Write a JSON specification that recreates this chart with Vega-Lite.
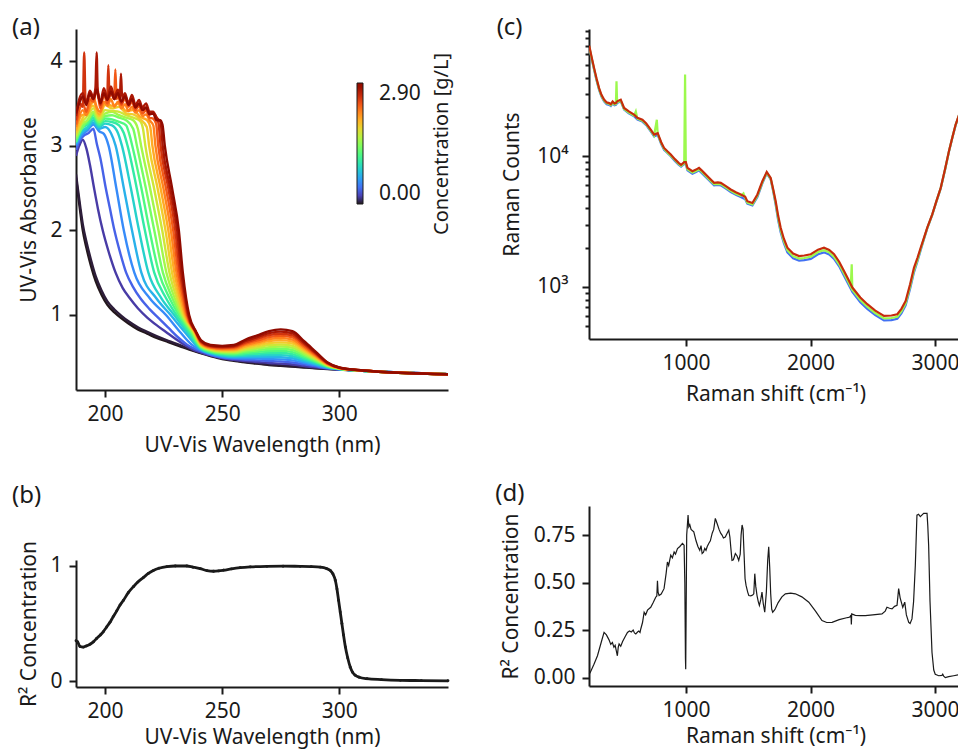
{
"$schema":"https://vega.github.io/schema/vega-lite/v6.json",
"padding":{"left":11,"top":16,"right":0,"bottom":10},
"autosize":{"type":"pad"},
"spacing":41,
"resolve":{"scale":{"x":"independent","y":"independent","color":"independent"}},
"datasets":{
"uv":[
{"c":0,"w":187.6,"a":2.62},{"c":0,"w":188.5,"a":2.42},{"c":0,"w":189.5,"a":2.2},{"c":0,"w":190.5,"a":2.0},{"c":0,"w":192,"a":1.8},{"c":0,"w":194,"a":1.58},{"c":0,"w":196,"a":1.4},{"c":0,"w":198.5,"a":1.24},{"c":0,"w":201,"a":1.12},{"c":0,"w":204,"a":1.03},{"c":0,"w":207,"a":0.96},{"c":0,"w":210,"a":0.9},{"c":0,"w":214,"a":0.83},{"c":0,"w":218,"a":0.78},{"c":0,"w":222,"a":0.73},{"c":0,"w":227,"a":0.68},{"c":0,"w":232,"a":0.63},{"c":0,"w":236,"a":0.59},{"c":0,"w":240,"a":0.555},{"c":0,"w":245,"a":0.515},{"c":0,"w":250,"a":0.48},{"c":0,"w":255,"a":0.46},{"c":0,"w":260,"a":0.44},{"c":0,"w":265,"a":0.425},{"c":0,"w":270,"a":0.41},{"c":0,"w":275,"a":0.4},{"c":0,"w":280,"a":0.39},{"c":0,"w":285,"a":0.38},{"c":0,"w":290,"a":0.37},{"c":0,"w":295,"a":0.362},{"c":0,"w":300,"a":0.355},{"c":0,"w":310,"a":0.34},{"c":0,"w":346.4,"a":0.3},
{"c":0.03,"w":187.6,"a":2.66},{"c":0.03,"w":188.5,"a":2.47},{"c":0.03,"w":189.5,"a":2.26},{"c":0.03,"w":190.5,"a":2.07},{"c":0.03,"w":192,"a":1.87},{"c":0.03,"w":194,"a":1.65},{"c":0.03,"w":196,"a":1.46},{"c":0.03,"w":198.5,"a":1.29},{"c":0.03,"w":201,"a":1.16},{"c":0.03,"w":204,"a":1.065},{"c":0.03,"w":207,"a":0.99},{"c":0.03,"w":210,"a":0.925},{"c":0.03,"w":214,"a":0.855},{"c":0.03,"w":218,"a":0.8},{"c":0.03,"w":222,"a":0.75},{"c":0.03,"w":227,"a":0.695},{"c":0.03,"w":232,"a":0.645},{"c":0.03,"w":236,"a":0.6},{"c":0.03,"w":240,"a":0.562},{"c":0.03,"w":245,"a":0.522},{"c":0.03,"w":250,"a":0.487},{"c":0.03,"w":255,"a":0.466},{"c":0.03,"w":260,"a":0.445},{"c":0.03,"w":265,"a":0.43},{"c":0.03,"w":270,"a":0.415},{"c":0.03,"w":275,"a":0.405},{"c":0.03,"w":280,"a":0.394},{"c":0.03,"w":285,"a":0.384},{"c":0.03,"w":290,"a":0.373},{"c":0.03,"w":295,"a":0.364},{"c":0.03,"w":300,"a":0.357},{"c":0.03,"w":310,"a":0.341},{"c":0.03,"w":346.4,"a":0.3},
{"c":0.17,"w":187.6,"a":2.88},{"c":0.17,"w":189,"a":3.0},{"c":0.17,"w":190.5,"a":3.07},{"c":0.17,"w":192,"a":2.97},{"c":0.17,"w":193.5,"a":2.78},{"c":0.17,"w":195.3,"a":2.5},{"c":0.17,"w":197,"a":2.25},{"c":0.17,"w":199,"a":2.0},{"c":0.17,"w":201.5,"a":1.75},{"c":0.17,"w":204.5,"a":1.5},{"c":0.17,"w":207.5,"a":1.32},{"c":0.17,"w":210.5,"a":1.2},{"c":0.17,"w":214,"a":1.08},{"c":0.17,"w":218,"a":0.97},{"c":0.17,"w":222,"a":0.88},{"c":0.17,"w":226,"a":0.8},{"c":0.17,"w":230,"a":0.72},{"c":0.17,"w":234,"a":0.645},{"c":0.17,"w":238,"a":0.585},{"c":0.17,"w":241,"a":0.557},{"c":0.17,"w":245,"a":0.523},{"c":0.17,"w":250,"a":0.489},{"c":0.17,"w":255,"a":0.471},{"c":0.17,"w":260,"a":0.456},{"c":0.17,"w":265,"a":0.445},{"c":0.17,"w":270,"a":0.433},{"c":0.17,"w":275,"a":0.425},{"c":0.17,"w":280,"a":0.415},{"c":0.17,"w":285,"a":0.398},{"c":0.17,"w":290,"a":0.381},{"c":0.17,"w":295,"a":0.367},{"c":0.17,"w":300,"a":0.357},{"c":0.17,"w":310,"a":0.34},{"c":0.17,"w":346.4,"a":0.3},
{"c":0.34,"w":187.6,"a":2.95},{"c":0.34,"w":189,"a":3.05},{"c":0.34,"w":191,"a":3.12},{"c":0.34,"w":193,"a":3.15},{"c":0.34,"w":195,"a":3.2},{"c":0.34,"w":196.5,"a":3.02},{"c":0.34,"w":198,"a":2.85},{"c":0.34,"w":200.3,"a":2.5},{"c":0.34,"w":202,"a":2.27},{"c":0.34,"w":204,"a":2.0},{"c":0.34,"w":206.5,"a":1.73},{"c":0.34,"w":209,"a":1.5},{"c":0.34,"w":212,"a":1.33},{"c":0.34,"w":215,"a":1.2},{"c":0.34,"w":219,"a":1.07},{"c":0.34,"w":223,"a":0.96},{"c":0.34,"w":227,"a":0.85},{"c":0.34,"w":231,"a":0.74},{"c":0.34,"w":235,"a":0.65},{"c":0.34,"w":239,"a":0.59},{"c":0.34,"w":242,"a":0.56},{"c":0.34,"w":245,"a":0.53},{"c":0.34,"w":250,"a":0.498},{"c":0.34,"w":255,"a":0.482},{"c":0.34,"w":260,"a":0.472},{"c":0.34,"w":265,"a":0.464},{"c":0.34,"w":270,"a":0.457},{"c":0.34,"w":275,"a":0.45},{"c":0.34,"w":280,"a":0.439},{"c":0.34,"w":285,"a":0.416},{"c":0.34,"w":290,"a":0.393},{"c":0.34,"w":295,"a":0.371},{"c":0.34,"w":300,"a":0.358},{"c":0.34,"w":310,"a":0.341},{"c":0.34,"w":346.4,"a":0.3},
{"c":0.51,"w":187.6,"a":3.0},{"c":0.51,"w":190,"a":3.12},{"c":0.51,"w":192.5,"a":3.18},{"c":0.51,"w":195,"a":3.25},{"c":0.51,"w":197.5,"a":3.17},{"c":0.51,"w":199.5,"a":3.14},{"c":0.51,"w":201.5,"a":3.0},{"c":0.51,"w":204.8,"a":2.5},{"c":0.51,"w":208,"a":2.0},{"c":0.51,"w":212.5,"a":1.5},{"c":0.51,"w":219,"a":1.2},{"c":0.51,"w":226,"a":1.0},{"c":0.51,"w":232,"a":0.8},{"c":0.51,"w":237,"a":0.65},{"c":0.51,"w":241,"a":0.58},{"c":0.51,"w":245,"a":0.538},{"c":0.51,"w":250,"a":0.507},{"c":0.51,"w":255,"a":0.493},{"c":0.51,"w":260,"a":0.488},{"c":0.51,"w":265,"a":0.484},{"c":0.51,"w":270,"a":0.48},{"c":0.51,"w":275,"a":0.476},{"c":0.51,"w":280,"a":0.464},{"c":0.51,"w":285,"a":0.435},{"c":0.51,"w":290,"a":0.404},{"c":0.51,"w":295,"a":0.376},{"c":0.51,"w":300,"a":0.359},{"c":0.51,"w":310,"a":0.341},{"c":0.51,"w":346.4,"a":0.3},
{"c":0.68,"w":187.6,"a":3.02},{"c":0.68,"w":190,"a":3.15},{"c":0.68,"w":192.5,"a":3.2},{"c":0.68,"w":195,"a":3.27},{"c":0.68,"w":197.5,"a":3.2},{"c":0.68,"w":200,"a":3.22},{"c":0.68,"w":202.5,"a":3.15},{"c":0.68,"w":204.5,"a":3.0},{"c":0.68,"w":208,"a":2.5},{"c":0.68,"w":211.5,"a":2.0},{"c":0.68,"w":215.5,"a":1.5},{"c":0.68,"w":221.8,"a":1.2},{"c":0.68,"w":228,"a":1.0},{"c":0.68,"w":234,"a":0.8},{"c":0.68,"w":241,"a":0.589},{"c":0.68,"w":245,"a":0.546},{"c":0.68,"w":250,"a":0.516},{"c":0.68,"w":255,"a":0.503},{"c":0.68,"w":260,"a":0.503},{"c":0.68,"w":265,"a":0.504},{"c":0.68,"w":270,"a":0.504},{"c":0.68,"w":275,"a":0.501},{"c":0.68,"w":280,"a":0.489},{"c":0.68,"w":285,"a":0.453},{"c":0.68,"w":290,"a":0.416},{"c":0.68,"w":295,"a":0.38},{"c":0.68,"w":300,"a":0.361},{"c":0.68,"w":310,"a":0.341},{"c":0.68,"w":346.4,"a":0.3},
{"c":0.85,"w":187.6,"a":3.04},{"c":0.85,"w":190,"a":3.17},{"c":0.85,"w":192.5,"a":3.22},{"c":0.85,"w":195,"a":3.3},{"c":0.85,"w":197.5,"a":3.22},{"c":0.85,"w":200,"a":3.26},{"c":0.85,"w":203,"a":3.24},{"c":0.85,"w":205.5,"a":3.15},{"c":0.85,"w":207.2,"a":3.0},{"c":0.85,"w":211,"a":2.5},{"c":0.85,"w":214.5,"a":2.0},{"c":0.85,"w":218.5,"a":1.5},{"c":0.85,"w":224,"a":1.2},{"c":0.85,"w":229.5,"a":1.0},{"c":0.85,"w":235,"a":0.8},{"c":0.85,"w":241,"a":0.597},{"c":0.85,"w":245,"a":0.553},{"c":0.85,"w":250,"a":0.525},{"c":0.85,"w":255,"a":0.514},{"c":0.85,"w":260,"a":0.519},{"c":0.85,"w":265,"a":0.523},{"c":0.85,"w":270,"a":0.527},{"c":0.85,"w":275,"a":0.526},{"c":0.85,"w":280,"a":0.513},{"c":0.85,"w":285,"a":0.471},{"c":0.85,"w":290,"a":0.427},{"c":0.85,"w":295,"a":0.385},{"c":0.85,"w":300,"a":0.362},{"c":0.85,"w":310,"a":0.341},{"c":0.85,"w":346.4,"a":0.3},
{"c":1.02,"w":187.6,"a":3.06},{"c":1.02,"w":190,"a":3.2},{"c":1.02,"w":192.5,"a":3.25},{"c":1.02,"w":195,"a":3.33},{"c":1.02,"w":197.5,"a":3.24},{"c":1.02,"w":200,"a":3.29},{"c":1.02,"w":203,"a":3.28},{"c":1.02,"w":206,"a":3.24},{"c":1.02,"w":208,"a":3.15},{"c":1.02,"w":209.6,"a":3.0},{"c":1.02,"w":213.5,"a":2.5},{"c":1.02,"w":217,"a":2.0},{"c":1.02,"w":221,"a":1.5},{"c":1.02,"w":226,"a":1.2},{"c":1.02,"w":230.5,"a":1.0},{"c":1.02,"w":235.8,"a":0.8},{"c":1.02,"w":241,"a":0.606},{"c":1.02,"w":245,"a":0.561},{"c":1.02,"w":250,"a":0.535},{"c":1.02,"w":255,"a":0.525},{"c":1.02,"w":260,"a":0.535},{"c":1.02,"w":265,"a":0.543},{"c":1.02,"w":270,"a":0.551},{"c":1.02,"w":275,"a":0.551},{"c":1.02,"w":280,"a":0.538},{"c":1.02,"w":285,"a":0.489},{"c":1.02,"w":290,"a":0.439},{"c":1.02,"w":295,"a":0.389},{"c":1.02,"w":300,"a":0.364},{"c":1.02,"w":310,"a":0.342},{"c":1.02,"w":346.4,"a":0.3},
{"c":1.19,"w":187.6,"a":3.04},{"c":1.19,"w":190,"a":3.22},{"c":1.19,"w":192.5,"a":3.27},{"c":1.19,"w":195,"a":3.36},{"c":1.19,"w":197.5,"a":3.26},{"c":1.19,"w":200,"a":3.32},{"c":1.19,"w":203,"a":3.31},{"c":1.19,"w":206,"a":3.28},{"c":1.19,"w":209,"a":3.24},{"c":1.19,"w":210.2,"a":3.15},{"c":1.19,"w":211.6,"a":3.0},{"c":1.19,"w":215.5,"a":2.5},{"c":1.19,"w":219,"a":2.0},{"c":1.19,"w":223,"a":1.5},{"c":1.19,"w":227.5,"a":1.2},{"c":1.19,"w":231.5,"a":1.0},{"c":1.19,"w":236.5,"a":0.8},{"c":1.19,"w":241,"a":0.614},{"c":1.19,"w":245,"a":0.568},{"c":1.19,"w":250,"a":0.544},{"c":1.19,"w":255,"a":0.536},{"c":1.19,"w":260,"a":0.551},{"c":1.19,"w":265,"a":0.563},{"c":1.19,"w":270,"a":0.574},{"c":1.19,"w":275,"a":0.576},{"c":1.19,"w":280,"a":0.562},{"c":1.19,"w":285,"a":0.507},{"c":1.19,"w":290,"a":0.45},{"c":1.19,"w":295,"a":0.394},{"c":1.19,"w":300,"a":0.365},{"c":1.19,"w":310,"a":0.342},{"c":1.19,"w":346.4,"a":0.3},
{"c":1.36,"w":187.6,"a":3.08},{"c":1.36,"w":190,"a":3.2},{"c":1.36,"w":192.5,"a":3.3},{"c":1.36,"w":195,"a":3.38},{"c":1.36,"w":197.5,"a":3.28},{"c":1.36,"w":200,"a":3.35},{"c":1.36,"w":203,"a":3.36},{"c":1.36,"w":206,"a":3.33},{"c":1.36,"w":209,"a":3.3},{"c":1.36,"w":212,"a":3.2},{"c":1.36,"w":213.6,"a":3.0},{"c":1.36,"w":217.4,"a":2.5},{"c":1.36,"w":221,"a":2.0},{"c":1.36,"w":224.7,"a":1.5},{"c":1.36,"w":228.7,"a":1.2},{"c":1.36,"w":232.2,"a":1.0},{"c":1.36,"w":237,"a":0.8},{"c":1.36,"w":241,"a":0.623},{"c":1.36,"w":245,"a":0.576},{"c":1.36,"w":250,"a":0.553},{"c":1.36,"w":255,"a":0.547},{"c":1.36,"w":260,"a":0.567},{"c":1.36,"w":265,"a":0.582},{"c":1.36,"w":270,"a":0.598},{"c":1.36,"w":275,"a":0.602},{"c":1.36,"w":280,"a":0.587},{"c":1.36,"w":285,"a":0.525},{"c":1.36,"w":290,"a":0.462},{"c":1.36,"w":295,"a":0.399},{"c":1.36,"w":300,"a":0.367},{"c":1.36,"w":310,"a":0.342},{"c":1.36,"w":346.4,"a":0.3},
{"c":1.53,"w":187.6,"a":3.1},{"c":1.53,"w":190,"a":3.25},{"c":1.53,"w":192.5,"a":3.3},{"c":1.53,"w":195,"a":3.4},{"c":1.53,"w":197.5,"a":3.3},{"c":1.53,"w":200,"a":3.38},{"c":1.53,"w":203,"a":3.4},{"c":1.53,"w":206,"a":3.36},{"c":1.53,"w":209,"a":3.33},{"c":1.53,"w":212,"a":3.3},{"c":1.53,"w":214,"a":3.2},{"c":1.53,"w":215.4,"a":3.0},{"c":1.53,"w":219.2,"a":2.5},{"c":1.53,"w":222.8,"a":2.0},{"c":1.53,"w":226.2,"a":1.5},{"c":1.53,"w":229.7,"a":1.2},{"c":1.53,"w":232.8,"a":1.0},{"c":1.53,"w":237.4,"a":0.8},{"c":1.53,"w":241,"a":0.632},{"c":1.53,"w":245,"a":0.584},{"c":1.53,"w":250,"a":0.562},{"c":1.53,"w":255,"a":0.558},{"c":1.53,"w":260,"a":0.583},{"c":1.53,"w":265,"a":0.602},{"c":1.53,"w":270,"a":0.621},{"c":1.53,"w":275,"a":0.627},{"c":1.53,"w":280,"a":0.612},{"c":1.53,"w":285,"a":0.544},{"c":1.53,"w":290,"a":0.473},{"c":1.53,"w":295,"a":0.403},{"c":1.53,"w":300,"a":0.368},{"c":1.53,"w":310,"a":0.343},{"c":1.53,"w":346.4,"a":0.3},
{"c":1.7,"w":187.6,"a":3.12},{"c":1.7,"w":190,"a":3.27},{"c":1.7,"w":192.5,"a":3.35},{"c":1.7,"w":195,"a":3.44},{"c":1.7,"w":197.5,"a":3.32},{"c":1.7,"w":200,"a":3.42},{"c":1.7,"w":203,"a":3.41},{"c":1.7,"w":206,"a":3.4},{"c":1.7,"w":209,"a":3.36},{"c":1.7,"w":212,"a":3.33},{"c":1.7,"w":215,"a":3.29},{"c":1.7,"w":216.2,"a":3.2},{"c":1.7,"w":217.2,"a":3.0},{"c":1.7,"w":220.9,"a":2.5},{"c":1.7,"w":224.4,"a":2.0},{"c":1.7,"w":227.5,"a":1.5},{"c":1.7,"w":230.6,"a":1.2},{"c":1.7,"w":233.3,"a":1.0},{"c":1.7,"w":237.8,"a":0.8},{"c":1.7,"w":241,"a":0.64},{"c":1.7,"w":245,"a":0.591},{"c":1.7,"w":250,"a":0.571},{"c":1.7,"w":255,"a":0.568},{"c":1.7,"w":260,"a":0.598},{"c":1.7,"w":265,"a":0.621},{"c":1.7,"w":270,"a":0.645},{"c":1.7,"w":275,"a":0.652},{"c":1.7,"w":280,"a":0.636},{"c":1.7,"w":285,"a":0.562},{"c":1.7,"w":290,"a":0.484},{"c":1.7,"w":295,"a":0.408},{"c":1.7,"w":300,"a":0.37},{"c":1.7,"w":310,"a":0.343},{"c":1.7,"w":346.4,"a":0.3},
{"c":1.87,"w":187.6,"a":3.15},{"c":1.87,"w":190,"a":3.3},{"c":1.87,"w":192.5,"a":3.42},{"c":1.87,"w":195,"a":3.47},{"c":1.87,"w":197.5,"a":3.35},{"c":1.87,"w":200,"a":3.48},{"c":1.87,"w":203,"a":3.44},{"c":1.87,"w":206,"a":3.46},{"c":1.87,"w":209,"a":3.38},{"c":1.87,"w":212,"a":3.37},{"c":1.87,"w":215,"a":3.31},{"c":1.87,"w":217.8,"a":3.22},{"c":1.87,"w":218.8,"a":3.0},{"c":1.87,"w":222.4,"a":2.5},{"c":1.87,"w":225.8,"a":2.0},{"c":1.87,"w":228.6,"a":1.5},{"c":1.87,"w":231.4,"a":1.2},{"c":1.87,"w":233.8,"a":1.0},{"c":1.87,"w":238.1,"a":0.8},{"c":1.87,"w":241,"a":0.648},{"c":1.87,"w":245,"a":0.599},{"c":1.87,"w":250,"a":0.58},{"c":1.87,"w":255,"a":0.579},{"c":1.87,"w":260,"a":0.614},{"c":1.87,"w":265,"a":0.641},{"c":1.87,"w":270,"a":0.668},{"c":1.87,"w":275,"a":0.677},{"c":1.87,"w":280,"a":0.661},{"c":1.87,"w":285,"a":0.58},{"c":1.87,"w":290,"a":0.496},{"c":1.87,"w":295,"a":0.412},{"c":1.87,"w":300,"a":0.371},{"c":1.87,"w":310,"a":0.343},{"c":1.87,"w":346.4,"a":0.3},
{"c":2.04,"w":187.6,"a":3.18},{"c":2.04,"w":190,"a":3.36},{"c":2.04,"w":192.5,"a":3.38},{"c":2.04,"w":195,"a":3.52},{"c":2.04,"w":197.5,"a":3.37},{"c":2.04,"w":200,"a":3.5},{"c":2.04,"w":203,"a":3.47},{"c":2.04,"w":206,"a":3.5},{"c":2.04,"w":209,"a":3.41},{"c":2.04,"w":212,"a":3.42},{"c":2.04,"w":215,"a":3.34},{"c":2.04,"w":218,"a":3.3},{"c":2.04,"w":219.3,"a":3.22},{"c":2.04,"w":220.2,"a":3.0},{"c":2.04,"w":223.7,"a":2.5},{"c":2.04,"w":227,"a":2.0},{"c":2.04,"w":229.6,"a":1.5},{"c":2.04,"w":232.1,"a":1.2},{"c":2.04,"w":234.2,"a":1.0},{"c":2.04,"w":238.3,"a":0.8},{"c":2.04,"w":241,"a":0.657},{"c":2.04,"w":245,"a":0.606},{"c":2.04,"w":250,"a":0.589},{"c":2.04,"w":255,"a":0.59},{"c":2.04,"w":260,"a":0.63},{"c":2.04,"w":265,"a":0.661},{"c":2.04,"w":270,"a":0.691},{"c":2.04,"w":275,"a":0.703},{"c":2.04,"w":280,"a":0.685},{"c":2.04,"w":285,"a":0.598},{"c":2.04,"w":290,"a":0.507},{"c":2.04,"w":295,"a":0.417},{"c":2.04,"w":300,"a":0.373},{"c":2.04,"w":310,"a":0.344},{"c":2.04,"w":346.4,"a":0.3},
{"c":2.21,"w":187.6,"a":3.22},{"c":2.21,"w":189,"a":3.35},{"c":2.21,"w":190.5,"a":3.42},{"c":2.21,"w":192,"a":3.36},{"c":2.21,"w":193.5,"a":3.48},{"c":2.21,"w":195,"a":3.58},{"c":2.21,"w":196.5,"a":3.45},{"c":2.21,"w":198,"a":3.4},{"c":2.21,"w":199.5,"a":3.52},{"c":2.21,"w":201,"a":3.47},{"c":2.21,"w":202.5,"a":3.55},{"c":2.21,"w":204,"a":3.46},{"c":2.21,"w":205.5,"a":3.52},{"c":2.21,"w":207,"a":3.44},{"c":2.21,"w":208.5,"a":3.49},{"c":2.21,"w":210,"a":3.41},{"c":2.21,"w":211.5,"a":3.46},{"c":2.21,"w":213,"a":3.39},{"c":2.21,"w":214.5,"a":3.42},{"c":2.21,"w":216,"a":3.35},{"c":2.21,"w":217.5,"a":3.37},{"c":2.21,"w":219,"a":3.3},{"c":2.21,"w":220.6,"a":3.24},{"c":2.21,"w":221.5,"a":3.0},{"c":2.21,"w":224.9,"a":2.5},{"c":2.21,"w":228.1,"a":2.0},{"c":2.21,"w":230.5,"a":1.5},{"c":2.21,"w":232.8,"a":1.2},{"c":2.21,"w":234.6,"a":1.0},{"c":2.21,"w":238.5,"a":0.8},{"c":2.21,"w":241,"a":0.665},{"c":2.21,"w":245,"a":0.614},{"c":2.21,"w":250,"a":0.598},{"c":2.21,"w":255,"a":0.601},{"c":2.21,"w":260,"a":0.646},{"c":2.21,"w":265,"a":0.68},{"c":2.21,"w":270,"a":0.715},{"c":2.21,"w":275,"a":0.728},{"c":2.21,"w":280,"a":0.71},{"c":2.21,"w":285,"a":0.616},{"c":2.21,"w":290,"a":0.519},{"c":2.21,"w":295,"a":0.421},{"c":2.21,"w":300,"a":0.374},{"c":2.21,"w":310,"a":0.344},{"c":2.21,"w":346.4,"a":0.3},
{"c":2.38,"w":187.6,"a":3.25},{"c":2.38,"w":189,"a":3.42},{"c":2.38,"w":190.5,"a":3.5},{"c":2.38,"w":192,"a":3.4},{"c":2.38,"w":193.5,"a":3.55},{"c":2.38,"w":195,"a":3.52},{"c":2.38,"w":196.5,"a":3.66},{"c":2.38,"w":198,"a":3.44},{"c":2.38,"w":199.5,"a":3.6},{"c":2.38,"w":201,"a":3.5},{"c":2.38,"w":202.5,"a":3.62},{"c":2.38,"w":203.9,"a":3.55},{"c":2.38,"w":204.4,"a":3.9},{"c":2.38,"w":204.9,"a":3.55},{"c":2.38,"w":205.5,"a":3.58},{"c":2.38,"w":207,"a":3.48},{"c":2.38,"w":208.5,"a":3.56},{"c":2.38,"w":210,"a":3.46},{"c":2.38,"w":211.5,"a":3.52},{"c":2.38,"w":213,"a":3.42},{"c":2.38,"w":214.5,"a":3.47},{"c":2.38,"w":216,"a":3.38},{"c":2.38,"w":217.5,"a":3.42},{"c":2.38,"w":219,"a":3.33},{"c":2.38,"w":220.5,"a":3.32},{"c":2.38,"w":221.8,"a":3.26},{"c":2.38,"w":222.7,"a":3.0},{"c":2.38,"w":226,"a":2.5},{"c":2.38,"w":229.1,"a":2.0},{"c":2.38,"w":231.3,"a":1.5},{"c":2.38,"w":233.4,"a":1.2},{"c":2.38,"w":235,"a":1.0},{"c":2.38,"w":238.6,"a":0.8},{"c":2.38,"w":241,"a":0.674},{"c":2.38,"w":245,"a":0.622},{"c":2.38,"w":250,"a":0.607},{"c":2.38,"w":255,"a":0.612},{"c":2.38,"w":260,"a":0.662},{"c":2.38,"w":265,"a":0.7},{"c":2.38,"w":270,"a":0.738},{"c":2.38,"w":275,"a":0.753},{"c":2.38,"w":280,"a":0.735},{"c":2.38,"w":285,"a":0.634},{"c":2.38,"w":290,"a":0.53},{"c":2.38,"w":295,"a":0.426},{"c":2.38,"w":300,"a":0.376},{"c":2.38,"w":310,"a":0.344},{"c":2.38,"w":346.4,"a":0.3},
{"c":2.55,"w":187.6,"a":3.3},{"c":2.55,"w":189,"a":3.5},{"c":2.55,"w":190.5,"a":3.46},{"c":2.55,"w":191.1,"a":4.1},{"c":2.55,"w":191.7,"a":3.5},{"c":2.55,"w":193.5,"a":3.6},{"c":2.55,"w":195,"a":3.55},{"c":2.55,"w":196.5,"a":3.7},{"c":2.55,"w":198,"a":3.48},{"c":2.55,"w":199.5,"a":3.62},{"c":2.55,"w":200.9,"a":3.55},{"c":2.55,"w":201.4,"a":3.95},{"c":2.55,"w":201.9,"a":3.58},{"c":2.55,"w":202.5,"a":3.66},{"c":2.55,"w":204,"a":3.55},{"c":2.55,"w":205.5,"a":3.64},{"c":2.55,"w":207,"a":3.5},{"c":2.55,"w":208.5,"a":3.6},{"c":2.55,"w":210,"a":3.49},{"c":2.55,"w":211.5,"a":3.56},{"c":2.55,"w":213,"a":3.45},{"c":2.55,"w":214.5,"a":3.5},{"c":2.55,"w":216,"a":3.42},{"c":2.55,"w":217.5,"a":3.45},{"c":2.55,"w":219,"a":3.37},{"c":2.55,"w":220.5,"a":3.38},{"c":2.55,"w":222.8,"a":3.27},{"c":2.55,"w":223.7,"a":3.0},{"c":2.55,"w":227,"a":2.5},{"c":2.55,"w":230,"a":2.0},{"c":2.55,"w":232,"a":1.5},{"c":2.55,"w":233.9,"a":1.2},{"c":2.55,"w":235.3,"a":1.0},{"c":2.55,"w":238.7,"a":0.8},{"c":2.55,"w":241,"a":0.683},{"c":2.55,"w":245,"a":0.629},{"c":2.55,"w":250,"a":0.616},{"c":2.55,"w":255,"a":0.623},{"c":2.55,"w":260,"a":0.677},{"c":2.55,"w":265,"a":0.72},{"c":2.55,"w":270,"a":0.762},{"c":2.55,"w":275,"a":0.778},{"c":2.55,"w":280,"a":0.759},{"c":2.55,"w":285,"a":0.653},{"c":2.55,"w":290,"a":0.541},{"c":2.55,"w":295,"a":0.431},{"c":2.55,"w":300,"a":0.377},{"c":2.55,"w":310,"a":0.344},{"c":2.55,"w":346.4,"a":0.3},
{"c":2.72,"w":187.6,"a":3.35},{"c":2.72,"w":189,"a":3.55},{"c":2.72,"w":190.5,"a":3.62},{"c":2.72,"w":192,"a":3.5},{"c":2.72,"w":193.5,"a":3.65},{"c":2.72,"w":195,"a":3.58},{"c":2.72,"w":195.9,"a":3.68},{"c":2.72,"w":196.4,"a":4.1},{"c":2.72,"w":196.9,"a":3.62},{"c":2.72,"w":198,"a":3.52},{"c":2.72,"w":199.5,"a":3.68},{"c":2.72,"w":201,"a":3.56},{"c":2.72,"w":202.5,"a":3.7},{"c":2.72,"w":204,"a":3.58},{"c":2.72,"w":205.5,"a":3.66},{"c":2.72,"w":206.3,"a":3.56},{"c":2.72,"w":206.8,"a":3.85},{"c":2.72,"w":207.3,"a":3.56},{"c":2.72,"w":208.5,"a":3.62},{"c":2.72,"w":210,"a":3.5},{"c":2.72,"w":211.5,"a":3.6},{"c":2.72,"w":213,"a":3.48},{"c":2.72,"w":214.5,"a":3.54},{"c":2.72,"w":216,"a":3.45},{"c":2.72,"w":217.5,"a":3.5},{"c":2.72,"w":219,"a":3.4},{"c":2.72,"w":220.5,"a":3.4},{"c":2.72,"w":222,"a":3.33},{"c":2.72,"w":223.7,"a":3.28},{"c":2.72,"w":224.6,"a":3.0},{"c":2.72,"w":227.8,"a":2.5},{"c":2.72,"w":230.8,"a":2.0},{"c":2.72,"w":232.6,"a":1.5},{"c":2.72,"w":234.3,"a":1.2},{"c":2.72,"w":235.6,"a":1.0},{"c":2.72,"w":238.8,"a":0.8},{"c":2.72,"w":241,"a":0.692},{"c":2.72,"w":245,"a":0.637},{"c":2.72,"w":250,"a":0.625},{"c":2.72,"w":255,"a":0.634},{"c":2.72,"w":260,"a":0.693},{"c":2.72,"w":265,"a":0.739},{"c":2.72,"w":270,"a":0.785},{"c":2.72,"w":275,"a":0.803},{"c":2.72,"w":280,"a":0.784},{"c":2.72,"w":285,"a":0.671},{"c":2.72,"w":290,"a":0.553},{"c":2.72,"w":295,"a":0.435},{"c":2.72,"w":300,"a":0.378},{"c":2.72,"w":310,"a":0.345},{"c":2.72,"w":346.4,"a":0.3},
{"c":2.9,"w":187.6,"a":3.38},{"c":2.9,"w":189,"a":3.5},{"c":2.9,"w":190.5,"a":3.58},{"c":2.9,"w":192,"a":3.48},{"c":2.9,"w":193.5,"a":3.62},{"c":2.9,"w":195,"a":3.55},{"c":2.9,"w":196.5,"a":3.66},{"c":2.9,"w":198,"a":3.5},{"c":2.9,"w":199.5,"a":3.62},{"c":2.9,"w":201,"a":3.54},{"c":2.9,"w":202.5,"a":3.64},{"c":2.9,"w":204,"a":3.55},{"c":2.9,"w":205.5,"a":3.62},{"c":2.9,"w":207,"a":3.52},{"c":2.9,"w":208.5,"a":3.58},{"c":2.9,"w":210,"a":3.48},{"c":2.9,"w":211.5,"a":3.55},{"c":2.9,"w":213,"a":3.45},{"c":2.9,"w":214.5,"a":3.5},{"c":2.9,"w":216,"a":3.42},{"c":2.9,"w":217.5,"a":3.45},{"c":2.9,"w":219,"a":3.37},{"c":2.9,"w":220.5,"a":3.38},{"c":2.9,"w":222,"a":3.3},{"c":2.9,"w":223.5,"a":3.3},{"c":2.9,"w":224.5,"a":3.25},{"c":2.9,"w":225.5,"a":3.0},{"c":2.9,"w":228.6,"a":2.5},{"c":2.9,"w":231.5,"a":2.0},{"c":2.9,"w":233.2,"a":1.5},{"c":2.9,"w":234.6,"a":1.2},{"c":2.9,"w":235.9,"a":1.0},{"c":2.9,"w":238.9,"a":0.8},{"c":2.9,"w":241,"a":0.7},{"c":2.9,"w":245,"a":0.645},{"c":2.9,"w":250,"a":0.635},{"c":2.9,"w":255,"a":0.645},{"c":2.9,"w":260,"a":0.71},{"c":2.9,"w":265,"a":0.76},{"c":2.9,"w":270,"a":0.81},{"c":2.9,"w":275,"a":0.83},{"c":2.9,"w":280,"a":0.81},{"c":2.9,"w":285,"a":0.69},{"c":2.9,"w":290,"a":0.565},{"c":2.9,"w":295,"a":0.44},{"c":2.9,"w":300,"a":0.38},{"c":2.9,"w":310,"a":0.345},{"c":2.9,"w":346.4,"a":0.3}
],
"uvr2":[
{"w":187.6,"r":0.35},{"w":188.3,"r":0.34},{"w":189.3,"r":0.3},{"w":190.7,"r":0.295},{"w":192,"r":0.305},{"w":193.6,"r":0.32},{"w":195,"r":0.34},{"w":196.4,"r":0.37},{"w":198,"r":0.4},{"w":199.3,"r":0.43},{"w":200.7,"r":0.47},{"w":202.1,"r":0.51},{"w":203.5,"r":0.56},{"w":205,"r":0.61},{"w":206.4,"r":0.66},{"w":207.8,"r":0.7},{"w":210,"r":0.77},{"w":212.1,"r":0.82},{"w":214,"r":0.86},{"w":216.4,"r":0.9},{"w":218.5,"r":0.935},{"w":220.6,"r":0.96},{"w":223,"r":0.98},{"w":226.4,"r":0.995},{"w":230,"r":1.0},{"w":234.9,"r":1.0},{"w":237.5,"r":0.99},{"w":240.6,"r":0.977},{"w":243.5,"r":0.96},{"w":246.3,"r":0.954},{"w":248.5,"r":0.957},{"w":250.6,"r":0.963},{"w":254,"r":0.975},{"w":257.7,"r":0.985},{"w":262,"r":0.992},{"w":269.1,"r":0.997},{"w":276,"r":0.998},{"w":283.3,"r":0.997},{"w":288,"r":0.995},{"w":291.9,"r":0.99},{"w":294.5,"r":0.978},{"w":296.2,"r":0.96},{"w":297.3,"r":0.93},{"w":298.3,"r":0.876},{"w":299,"r":0.8},{"w":299.7,"r":0.7},{"w":300.4,"r":0.6},{"w":301.1,"r":0.5},{"w":301.8,"r":0.4},{"w":302.6,"r":0.296},{"w":303.6,"r":0.2},{"w":304.7,"r":0.12},{"w":305.7,"r":0.075},{"w":306.8,"r":0.05},{"w":308.5,"r":0.033},{"w":311.8,"r":0.02},{"w":318,"r":0.012},{"w":326.1,"r":0.006},{"w":335,"r":0.004},{"w":346.4,"r":0.002}
],
"raman":[
{"c":0.4,"n":222,"i":67900},{"c":0.4,"n":240,"i":56300},{"c":0.4,"n":261,"i":45800},{"c":0.4,"n":280,"i":38300},{"c":0.4,"n":301,"i":32200},{"c":0.4,"n":320,"i":28600},{"c":0.4,"n":341,"i":26300},{"c":0.4,"n":362,"i":25000},{"c":0.4,"n":382,"i":24700},{"c":0.4,"n":395,"i":24250},{"c":0.4,"n":410,"i":25400},{"c":0.4,"n":425,"i":24500},{"c":0.4,"n":436,"i":24700},{"c":0.4,"n":446,"i":25500},{"c":0.4,"n":475,"i":26300},{"c":0.4,"n":502,"i":22700},{"c":0.4,"n":540,"i":21300},{"c":0.4,"n":582,"i":20200},{"c":0.4,"n":609,"i":19100},{"c":0.4,"n":649,"i":18400},{"c":0.4,"n":680,"i":17300},{"c":0.4,"n":716,"i":15500},{"c":0.4,"n":743,"i":14200},{"c":0.4,"n":772,"i":14550},{"c":0.4,"n":800,"i":12400},{"c":0.4,"n":823,"i":11200},{"c":0.4,"n":850,"i":10600},{"c":0.4,"n":877,"i":10000},{"c":0.4,"n":910,"i":9200},{"c":0.4,"n":940,"i":8630},{"c":0.4,"n":960,"i":8340},{"c":0.4,"n":985,"i":8730},{"c":0.4,"n":998,"i":8700},{"c":0.4,"n":1011,"i":7800},{"c":0.4,"n":1051,"i":7350},{"c":0.4,"n":1080,"i":7560},{"c":0.4,"n":1104,"i":7800},{"c":0.4,"n":1125,"i":7460},{"c":0.4,"n":1145,"i":7140},{"c":0.4,"n":1180,"i":6600},{"c":0.4,"n":1225,"i":5990},{"c":0.4,"n":1255,"i":6030},{"c":0.4,"n":1279,"i":5990},{"c":0.4,"n":1320,"i":5650},{"c":0.4,"n":1359,"i":5330},{"c":0.4,"n":1400,"i":5070},{"c":0.4,"n":1439,"i":4880},{"c":0.4,"n":1475,"i":4690},{"c":0.4,"n":1492,"i":4340},{"c":0.4,"n":1533,"i":4200},{"c":0.4,"n":1573,"i":4880},{"c":0.4,"n":1613,"i":6200},{"c":0.4,"n":1648,"i":7390},{"c":0.4,"n":1680,"i":6640},{"c":0.4,"n":1700,"i":5400},{"c":0.4,"n":1720,"i":4250},{"c":0.4,"n":1740,"i":3230},{"c":0.4,"n":1760,"i":2620},{"c":0.4,"n":1785,"i":2170},{"c":0.4,"n":1814,"i":1840},{"c":0.4,"n":1860,"i":1660},{"c":0.4,"n":1908,"i":1590},{"c":0.4,"n":1950,"i":1605},{"c":0.4,"n":2002,"i":1640},{"c":0.4,"n":2060,"i":1780},{"c":0.4,"n":2108,"i":1840},{"c":0.4,"n":2150,"i":1770},{"c":0.4,"n":2189,"i":1640},{"c":0.4,"n":2230,"i":1440},{"c":0.4,"n":2269,"i":1220},{"c":0.4,"n":2300,"i":1070},{"c":0.4,"n":2323,"i":970},{"c":0.4,"n":2336,"i":915},{"c":0.4,"n":2400,"i":765},{"c":0.4,"n":2456,"i":680},{"c":0.4,"n":2520,"i":610},{"c":0.4,"n":2590,"i":555},{"c":0.4,"n":2650,"i":558},{"c":0.4,"n":2697,"i":571},{"c":0.4,"n":2730,"i":628},{"c":0.4,"n":2764,"i":722},{"c":0.4,"n":2800,"i":970},{"c":0.4,"n":2831,"i":1295},{"c":0.4,"n":2860,"i":1580},{"c":0.4,"n":2885,"i":1910},{"c":0.4,"n":2910,"i":2300},{"c":0.4,"n":2938,"i":2810},{"c":0.4,"n":2978,"i":3555},{"c":0.4,"n":3010,"i":4455},{"c":0.4,"n":3046,"i":5670},{"c":0.4,"n":3080,"i":7820},{"c":0.4,"n":3112,"i":10800},{"c":0.4,"n":3140,"i":13900},{"c":0.4,"n":3166,"i":17300},{"c":0.4,"n":3195,"i":20800},{"c":0.4,"n":3217,"i":23200},
{"c":1.5,"n":222,"i":68800},{"c":1.5,"n":240,"i":57000},{"c":1.5,"n":261,"i":46400},{"c":1.5,"n":280,"i":38800},{"c":1.5,"n":301,"i":32600},{"c":1.5,"n":320,"i":29000},{"c":1.5,"n":341,"i":26600},{"c":1.5,"n":362,"i":25400},{"c":1.5,"n":382,"i":25100},{"c":1.5,"n":395,"i":24600},{"c":1.5,"n":410,"i":25750},{"c":1.5,"n":425,"i":24900},{"c":1.5,"n":436,"i":25100},{"c":1.5,"n":441,"i":37400},{"c":1.5,"n":446,"i":25850},{"c":1.5,"n":475,"i":26600},{"c":1.5,"n":502,"i":23000},{"c":1.5,"n":540,"i":21600},{"c":1.5,"n":582,"i":20450},{"c":1.5,"n":596,"i":22000},{"c":1.5,"n":609,"i":19350},{"c":1.5,"n":649,"i":18700},{"c":1.5,"n":680,"i":17500},{"c":1.5,"n":716,"i":15700},{"c":1.5,"n":743,"i":14400},{"c":1.5,"n":765,"i":19000},{"c":1.5,"n":772,"i":14750},{"c":1.5,"n":800,"i":12600},{"c":1.5,"n":823,"i":11370},{"c":1.5,"n":850,"i":10700},{"c":1.5,"n":877,"i":10100},{"c":1.5,"n":910,"i":9340},{"c":1.5,"n":940,"i":8750},{"c":1.5,"n":960,"i":8450},{"c":1.5,"n":985,"i":8850},{"c":1.5,"n":992,"i":42100},{"c":1.5,"n":998,"i":8800},{"c":1.5,"n":1011,"i":7950},{"c":1.5,"n":1051,"i":7500},{"c":1.5,"n":1080,"i":7710},{"c":1.5,"n":1104,"i":7950},{"c":1.5,"n":1125,"i":7610},{"c":1.5,"n":1145,"i":7280},{"c":1.5,"n":1180,"i":6730},{"c":1.5,"n":1225,"i":6110},{"c":1.5,"n":1255,"i":6150},{"c":1.5,"n":1279,"i":6110},{"c":1.5,"n":1320,"i":5760},{"c":1.5,"n":1359,"i":5440},{"c":1.5,"n":1400,"i":5170},{"c":1.5,"n":1439,"i":4980},{"c":1.5,"n":1461,"i":5200},{"c":1.5,"n":1475,"i":4780},{"c":1.5,"n":1492,"i":4420},{"c":1.5,"n":1533,"i":4280},{"c":1.5,"n":1573,"i":4980},{"c":1.5,"n":1613,"i":6310},{"c":1.5,"n":1648,"i":7480},{"c":1.5,"n":1680,"i":6720},{"c":1.5,"n":1700,"i":5500},{"c":1.5,"n":1720,"i":4380},{"c":1.5,"n":1740,"i":3350},{"c":1.5,"n":1760,"i":2720},{"c":1.5,"n":1785,"i":2250},{"c":1.5,"n":1814,"i":1910},{"c":1.5,"n":1860,"i":1720},{"c":1.5,"n":1908,"i":1650},{"c":1.5,"n":1950,"i":1665},{"c":1.5,"n":2002,"i":1705},{"c":1.5,"n":2060,"i":1850},{"c":1.5,"n":2108,"i":1910},{"c":1.5,"n":2150,"i":1840},{"c":1.5,"n":2189,"i":1700},{"c":1.5,"n":2230,"i":1490},{"c":1.5,"n":2269,"i":1270},{"c":1.5,"n":2300,"i":1110},{"c":1.5,"n":2323,"i":1005},{"c":1.5,"n":2331,"i":1490},{"c":1.5,"n":2336,"i":950},{"c":1.5,"n":2400,"i":795},{"c":1.5,"n":2456,"i":706},{"c":1.5,"n":2520,"i":632},{"c":1.5,"n":2590,"i":575},{"c":1.5,"n":2650,"i":579},{"c":1.5,"n":2697,"i":592},{"c":1.5,"n":2730,"i":651},{"c":1.5,"n":2764,"i":748},{"c":1.5,"n":2800,"i":1005},{"c":1.5,"n":2831,"i":1340},{"c":1.5,"n":2860,"i":1620},{"c":1.5,"n":2885,"i":1950},{"c":1.5,"n":2910,"i":2320},{"c":1.5,"n":2938,"i":2825},{"c":1.5,"n":2978,"i":3570},{"c":1.5,"n":3010,"i":4480},{"c":1.5,"n":3046,"i":5700},{"c":1.5,"n":3080,"i":7860},{"c":1.5,"n":3112,"i":10850},{"c":1.5,"n":3140,"i":13950},{"c":1.5,"n":3166,"i":17380},{"c":1.5,"n":3195,"i":20900},{"c":1.5,"n":3217,"i":23300},
{"c":2.6,"n":222,"i":70000},{"c":2.6,"n":240,"i":58000},{"c":2.6,"n":261,"i":47200},{"c":2.6,"n":280,"i":39500},{"c":2.6,"n":301,"i":33200},{"c":2.6,"n":320,"i":29500},{"c":2.6,"n":341,"i":27100},{"c":2.6,"n":362,"i":25800},{"c":2.6,"n":382,"i":25500},{"c":2.6,"n":395,"i":25000},{"c":2.6,"n":410,"i":26200},{"c":2.6,"n":425,"i":25300},{"c":2.6,"n":436,"i":25500},{"c":2.6,"n":446,"i":26300},{"c":2.6,"n":475,"i":27100},{"c":2.6,"n":502,"i":23400},{"c":2.6,"n":540,"i":22000},{"c":2.6,"n":582,"i":20800},{"c":2.6,"n":609,"i":19700},{"c":2.6,"n":649,"i":19000},{"c":2.6,"n":680,"i":17800},{"c":2.6,"n":716,"i":16000},{"c":2.6,"n":743,"i":14650},{"c":2.6,"n":772,"i":15000},{"c":2.6,"n":800,"i":12800},{"c":2.6,"n":823,"i":11570},{"c":2.6,"n":850,"i":10900},{"c":2.6,"n":877,"i":10300},{"c":2.6,"n":910,"i":9500},{"c":2.6,"n":940,"i":8900},{"c":2.6,"n":960,"i":8600},{"c":2.6,"n":985,"i":9000},{"c":2.6,"n":998,"i":9000},{"c":2.6,"n":1011,"i":8150},{"c":2.6,"n":1051,"i":7680},{"c":2.6,"n":1080,"i":7900},{"c":2.6,"n":1104,"i":8150},{"c":2.6,"n":1125,"i":7800},{"c":2.6,"n":1145,"i":7460},{"c":2.6,"n":1180,"i":6900},{"c":2.6,"n":1225,"i":6260},{"c":2.6,"n":1255,"i":6300},{"c":2.6,"n":1279,"i":6260},{"c":2.6,"n":1320,"i":5900},{"c":2.6,"n":1359,"i":5570},{"c":2.6,"n":1400,"i":5300},{"c":2.6,"n":1439,"i":5100},{"c":2.6,"n":1475,"i":4900},{"c":2.6,"n":1492,"i":4530},{"c":2.6,"n":1533,"i":4390},{"c":2.6,"n":1573,"i":5100},{"c":2.6,"n":1613,"i":6440},{"c":2.6,"n":1648,"i":7590},{"c":2.6,"n":1680,"i":6820},{"c":2.6,"n":1700,"i":5600},{"c":2.6,"n":1720,"i":4530},{"c":2.6,"n":1740,"i":3500},{"c":2.6,"n":1760,"i":2840},{"c":2.6,"n":1785,"i":2350},{"c":2.6,"n":1814,"i":1995},{"c":2.6,"n":1860,"i":1800},{"c":2.6,"n":1908,"i":1725},{"c":2.6,"n":1950,"i":1740},{"c":2.6,"n":2002,"i":1780},{"c":2.6,"n":2060,"i":1930},{"c":2.6,"n":2108,"i":1995},{"c":2.6,"n":2150,"i":1920},{"c":2.6,"n":2189,"i":1780},{"c":2.6,"n":2230,"i":1560},{"c":2.6,"n":2269,"i":1325},{"c":2.6,"n":2300,"i":1160},{"c":2.6,"n":2323,"i":1050},{"c":2.6,"n":2336,"i":990},{"c":2.6,"n":2400,"i":830},{"c":2.6,"n":2456,"i":738},{"c":2.6,"n":2520,"i":660},{"c":2.6,"n":2590,"i":601},{"c":2.6,"n":2650,"i":605},{"c":2.6,"n":2697,"i":619},{"c":2.6,"n":2730,"i":680},{"c":2.6,"n":2764,"i":782},{"c":2.6,"n":2800,"i":1050},{"c":2.6,"n":2831,"i":1400},{"c":2.6,"n":2860,"i":1680},{"c":2.6,"n":2885,"i":1995},{"c":2.6,"n":2910,"i":2350},{"c":2.6,"n":2938,"i":2840},{"c":2.6,"n":2978,"i":3590},{"c":2.6,"n":3010,"i":4500},{"c":2.6,"n":3046,"i":5730},{"c":2.6,"n":3080,"i":7900},{"c":2.6,"n":3112,"i":10900},{"c":2.6,"n":3140,"i":14000},{"c":2.6,"n":3166,"i":17460},{"c":2.6,"n":3195,"i":21000},{"c":2.6,"n":3217,"i":23400}
],
"ramanr2":[
{"n":222,"r":0.02},{"n":229,"r":0.026},{"n":260,"r":0.07},{"n":288,"r":0.115},{"n":320,"r":0.19},{"n":341,"r":0.238},{"n":360,"r":0.225},{"n":380,"r":0.2},{"n":395,"r":0.175},{"n":408,"r":0.185},{"n":420,"r":0.16},{"n":430,"r":0.17},{"n":440,"r":0.14},{"n":448,"r":0.115},{"n":455,"r":0.16},{"n":462,"r":0.177},{"n":475,"r":0.165},{"n":490,"r":0.19},{"n":510,"r":0.215},{"n":529,"r":0.238},{"n":545,"r":0.245},{"n":560,"r":0.24},{"n":575,"r":0.25},{"n":585,"r":0.235},{"n":596,"r":0.23},{"n":610,"r":0.24},{"n":620,"r":0.245},{"n":630,"r":0.238},{"n":636,"r":0.256},{"n":650,"r":0.29},{"n":663,"r":0.344},{"n":675,"r":0.33},{"n":690,"r":0.355},{"n":716,"r":0.37},{"n":736,"r":0.395},{"n":756,"r":0.423},{"n":765,"r":0.43},{"n":770,"r":0.51},{"n":775,"r":0.45},{"n":783,"r":0.432},{"n":800,"r":0.44},{"n":823,"r":0.468},{"n":840,"r":0.55},{"n":850,"r":0.608},{"n":860,"r":0.59},{"n":877,"r":0.644},{"n":890,"r":0.63},{"n":904,"r":0.661},{"n":915,"r":0.65},{"n":931,"r":0.679},{"n":950,"r":0.69},{"n":971,"r":0.706},{"n":984,"r":0.697},{"n":990,"r":0.5},{"n":995,"r":0.1},{"n":997,"r":0.044},{"n":1000,"r":0.3},{"n":1005,"r":0.75},{"n":1016,"r":0.855},{"n":1022,"r":0.794},{"n":1030,"r":0.805},{"n":1040,"r":0.78},{"n":1062,"r":0.767},{"n":1080,"r":0.72},{"n":1095,"r":0.69},{"n":1110,"r":0.67},{"n":1120,"r":0.695},{"n":1129,"r":0.653},{"n":1140,"r":0.66},{"n":1150,"r":0.68},{"n":1160,"r":0.67},{"n":1170,"r":0.69},{"n":1182,"r":0.706},{"n":1195,"r":0.72},{"n":1210,"r":0.76},{"n":1222,"r":0.78},{"n":1235,"r":0.838},{"n":1250,"r":0.81},{"n":1265,"r":0.78},{"n":1278,"r":0.76},{"n":1289,"r":0.75},{"n":1300,"r":0.735},{"n":1315,"r":0.74},{"n":1330,"r":0.76},{"n":1343,"r":0.776},{"n":1352,"r":0.74},{"n":1360,"r":0.68},{"n":1369,"r":0.617},{"n":1380,"r":0.62},{"n":1396,"r":0.653},{"n":1410,"r":0.64},{"n":1423,"r":0.617},{"n":1435,"r":0.65},{"n":1442,"r":0.75},{"n":1450,"r":0.803},{"n":1458,"r":0.78},{"n":1466,"r":0.65},{"n":1474,"r":0.52},{"n":1482,"r":0.485},{"n":1495,"r":0.45},{"n":1504,"r":0.432},{"n":1520,"r":0.43},{"n":1535,"r":0.435},{"n":1544,"r":0.441},{"n":1552,"r":0.547},{"n":1560,"r":0.48},{"n":1570,"r":0.432},{"n":1580,"r":0.4},{"n":1589,"r":0.38},{"n":1600,"r":0.41},{"n":1610,"r":0.45},{"n":1620,"r":0.39},{"n":1632,"r":0.344},{"n":1645,"r":0.45},{"n":1656,"r":0.62},{"n":1664,"r":0.688},{"n":1672,"r":0.58},{"n":1680,"r":0.44},{"n":1688,"r":0.36},{"n":1696,"r":0.344},{"n":1710,"r":0.355},{"n":1717,"r":0.362},{"n":1740,"r":0.395},{"n":1770,"r":0.425},{"n":1798,"r":0.441},{"n":1840,"r":0.445},{"n":1878,"r":0.441},{"n":1930,"r":0.425},{"n":1986,"r":0.397},{"n":2040,"r":0.35},{"n":2092,"r":0.3},{"n":2130,"r":0.29},{"n":2173,"r":0.291},{"n":2230,"r":0.305},{"n":2290,"r":0.315},{"n":2307,"r":0.317},{"n":2318,"r":0.32},{"n":2325,"r":0.33},{"n":2328,"r":0.28},{"n":2331,"r":0.335},{"n":2360,"r":0.328},{"n":2400,"r":0.326},{"n":2440,"r":0.326},{"n":2500,"r":0.33},{"n":2574,"r":0.335},{"n":2600,"r":0.35},{"n":2614,"r":0.37},{"n":2635,"r":0.365},{"n":2655,"r":0.362},{"n":2675,"r":0.375},{"n":2695,"r":0.38},{"n":2708,"r":0.468},{"n":2720,"r":0.42},{"n":2741,"r":0.37},{"n":2757,"r":0.397},{"n":2770,"r":0.33},{"n":2789,"r":0.291},{"n":2800,"r":0.285},{"n":2815,"r":0.309},{"n":2828,"r":0.4},{"n":2842,"r":0.591},{"n":2855,"r":0.855},{"n":2868,"r":0.86},{"n":2882,"r":0.847},{"n":2909,"r":0.864},{"n":2936,"r":0.864},{"n":2942,"r":0.8},{"n":2949,"r":0.697},{"n":2960,"r":0.4},{"n":2976,"r":0.132},{"n":2990,"r":0.04},{"n":3002,"r":0.018},{"n":3030,"r":0.01},{"n":3056,"r":0.012},{"n":3062,"r":0.018},{"n":3070,"r":0.008},{"n":3083,"r":0.0},{"n":3110,"r":0.005},{"n":3150,"r":0.01},{"n":3217,"r":0.018}
]
},
"hconcat":[
{"spacing":29,
 "resolve":{"scale":{"x":"independent","y":"independent","color":"independent"}},
 "vconcat":[
 {"width":372,"height":361,
  "title":{"text":"(a)","offset":-11,"dx":-7},
  "layer":[
   {"data":{"name":"uv"},
    "mark":{"type":"line","strokeWidth":2.4,"interpolate":"monotone","clip":true},
    "encoding":{
     "x":{"field":"w","type":"quantitative","scale":{"domain":[187.6,346.4],"nice":false,"zero":false},"axis":{"values":[200,250,300],"format":"d","title":"UV-Vis Wavelength (nm)"}},
     "y":{"field":"a","type":"quantitative","scale":{"domain":[0.114,4.378],"nice":false,"zero":false},"axis":{"values":[1,2,3,4],"format":"d","title":"UV-Vis Absorbance","titlePadding":10}},
     "color":{"field":"c","type":"quantitative","scale":{"scheme":"turbo","domain":[0,2.9]},
      "legend":{"orient":"none","legendX":281,"legendY":54,"title":null,"direction":"vertical","gradientLength":121,"gradientThickness":6,"values":[0,2.9],"format":".2f","labelFontSize":21,"labelColor":"#1a1a1a","labelOffset":16,"padding":0,"gradientStrokeColor":"#1a1a1a","gradientStrokeWidth":1,"labelBaseline":"middle"}}
    }},
   {"data":{"values":[{}]},
    "mark":{"type":"text","text":"Concentration [g/L]","angle":270,"fontSize":20,"color":"#1a1a1a","align":"center","baseline":"middle"},
    "encoding":{"x":{"datum":343.8,"type":"quantitative"},"y":{"datum":3.02,"type":"quantitative"}}}
  ]},
 {"width":372,"height":127,
  "title":{"text":"(b)","offset":32,"dx":-7},
  "data":{"name":"uvr2"},
  "mark":{"type":"line","color":"#1a1a1a","strokeWidth":2.8,"interpolate":"monotone","point":{"filled":true,"size":8,"color":"#1a1a1a"}},
  "encoding":{
   "x":{"field":"w","type":"quantitative","scale":{"domain":[187.6,346.4],"nice":false,"zero":false},"axis":{"values":[200,250,300],"format":"d","title":"UV-Vis Wavelength (nm)","titlePadding":5}},
   "y":{"field":"r","type":"quantitative","scale":{"domain":[-0.052,1.052],"nice":false,"zero":false},"axis":{"values":[0,1],"format":"d","title":"R² Concentration","titlePadding":10}}
  }}
 ]},
{"spacing":78,
 "resolve":{"scale":{"x":"independent","y":"independent","color":"independent"}},
 "vconcat":[
 {"width":373,"height":310,
  "title":{"text":"(c)","offset":-11,"dx":-5},
  "data":{"name":"raman"},
  "mark":{"type":"line","strokeWidth":2.2,"clip":true},
  "encoding":{
   "x":{"field":"n","type":"quantitative","scale":{"domain":[220,3217],"nice":false,"zero":false},"axis":{"values":[1000,2000,3000],"format":"d","title":"Raman shift (cm⁻¹)"}},
   "y":{"field":"i","type":"quantitative","scale":{"type":"log","domain":[400,94000],"nice":false},
    "axis":{"values":[500,600,700,800,900,1000,2000,3000,4000,5000,6000,7000,8000,9000,10000,20000,30000,40000,50000,60000,70000,80000,90000],
     "labelExpr":"datum.value == 1000 ? '10³' : datum.value == 10000 ? '10⁴' : ''",
     "tickSize":{"condition":{"test":"datum.value == 1000 || datum.value == 10000","value":7},"value":4},
     "labelPadding":14,"titlePadding":14,
     "title":"Raman Counts"}},
   "color":{"field":"c","type":"quantitative","scale":{"scheme":"turbo","domain":[0,2.9]},"legend":null}
  }},
 {"width":373,"height":180,
  "title":{"text":"(d)","offset":0,"dx":-5},
  "data":{"name":"ramanr2"},
  "mark":{"type":"line","color":"#1a1a1a","strokeWidth":1.2},
  "encoding":{
   "x":{"field":"n","type":"quantitative","scale":{"domain":[220,3217],"nice":false,"zero":false},"axis":{"values":[1000,2000,3000],"format":"d","title":"Raman shift (cm⁻¹)","titlePadding":5}},
   "y":{"field":"r","type":"quantitative","scale":{"domain":[-0.044,0.903],"nice":false,"zero":false},"axis":{"values":[0,0.25,0.5,0.75],"format":".2f","title":"R² Concentration"}}
  }}
 ]}
],
"config":{
 "font":"Noto Sans",
 "view":{"stroke":null},
 "axis":{"domainColor":"#1a1a1a","domainWidth":2,"tickColor":"#1a1a1a","tickWidth":2,"tickSize":7,"labelFontSize":21,"titleFontSize":21,"labelColor":"#1a1a1a","titleColor":"#1a1a1a","titleFontWeight":"normal","grid":false,"labelPadding":6,"titlePadding":10},
 "axisY":{"labelPadding":7,"titlePadding":12},
 "title":{"fontSize":24,"fontWeight":"normal","anchor":"start","frame":"bounds","color":"#1a1a1a"}
}
}
